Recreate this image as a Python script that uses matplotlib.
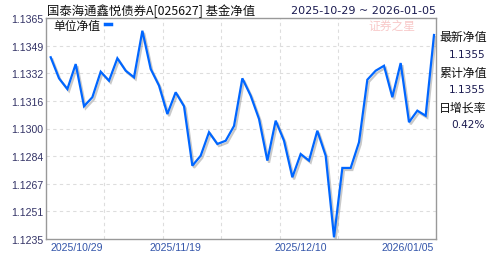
import matplotlib
matplotlib.use("Agg")
import matplotlib.pyplot as plt
import matplotlib.patheffects as pe

dates = ["2025/10/29", "2025/11/19", "2025/12/10", "2026/01/05"]
date_idx = [0, 15, 30, 46]
nav = [1.13419, 1.13295, 1.13232, 1.13379, 1.13131, 1.13184, 1.13334, 1.13281,
       1.13413, 1.13340, 1.13301, 1.13575, 1.13350, 1.13252, 1.13085, 1.13213,
       1.13131, 1.12781, 1.12840, 1.12978, 1.12909, 1.12928, 1.13015, 1.13295,
       1.13193, 1.13056, 1.12811, 1.13046, 1.12928, 1.12713, 1.12850, 1.12811,
       1.12987, 1.12840, 1.12360, 1.12768, 1.12768, 1.12919, 1.13287, 1.13340,
       1.13369, 1.13184, 1.13385, 1.13037, 1.13105, 1.13075, 1.13550]
yticks = ["1.1235", "1.1251", "1.1267", "1.1284", "1.1300", "1.1316", "1.1332", "1.1349", "1.1365"]
title = "国泰海通鑫悦债券A[025627] 基金净值"
date_range = "2025-10-29 ~ 2026-01-05"
side_labels = ["最新净值", "1.1355", "累计净值", "1.1355", "日增长率", "0.42%"]
legend_label = "单位净值"

plt.rcParams['font.family'] = ['Noto Sans CJK SC', 'DejaVu Sans']

fig = plt.figure(figsize=(4.88, 2.55), dpi=100)
ax = fig.add_axes([46/488, 15/255, 390/488, 221/255])

x = list(range(len(nav)))
ax.plot(x, nav, color='#0066ff', lw=1.6, solid_joinstyle='miter',
        path_effects=[pe.SimpleLineShadow(offset=(1.2, -1.5), shadow_color='#888888', alpha=0.45),
                      pe.Normal()], zorder=3)

ymin, ymax = 1.1235, 1.1365
ax.set_ylim(ymin, ymax)
ax.set_xlim(-0.564, 46.24)
step = (ymax - ymin) / 8
yt = [ymin + i*step for i in range(9)]
ax.set_yticks(yt)
ax.set_yticklabels(yticks, family='Liberation Sans', fontsize=7.6, color='#333366')
ax.tick_params(axis='y', length=0, pad=2)
for v in yt[1:-1]:
    ax.axhline(v, color='#dddddd', lw=0.8, ls=(0, (3, 3)), zorder=1)
for fx in [0.1487, 0.2995, 0.4487, 0.5995, 0.749]:
    ax.axvline(ax.get_xlim()[0] + fx*(ax.get_xlim()[1]-ax.get_xlim()[0]),
               color='#dddddd', lw=0.8, ls=(0, (3, 3)), zorder=1)

ax.set_xticks(date_idx)
ax.set_xticklabels(dates, family='Liberation Sans', fontsize=7.6, color='#3355aa')
ax.tick_params(axis='x', length=0, pad=2)
labs = ax.get_xticklabels()
labs[0].set_ha('left')
labs[-1].set_ha('right')
for s in ax.spines.values():
    s.set_color('#999999')
    s.set_linewidth(1.0)

fig.text(47/488, 1 - 11/255, title, fontsize=8.9, color='#111111', va='center', ha='left')
fig.text(436/488, 1 - 11/255, date_range, family='DejaVu Sans', fontsize=8.0, color='#1a1a50', va='center', ha='right')

# legend
ax.text((53 - 46)/390, 1 - (26-19)/221, legend_label, transform=ax.transAxes,
        fontsize=8.5, color='#111111', va='center', ha='left')
fig.add_artist(plt.Line2D([105/488, 111/488], [1 - 25/255, 1 - 25/255], color='#0066ff', lw=2.5))

# watermark
fig.text(392/488, 1 - 26/255, "证券之星", fontsize=8.5, color='#f8c8c8', va='center', ha='center', style='italic')

ys = [38, 55, 73, 90, 108, 125]
for lab, yy in zip(side_labels, ys):
    if lab[0].isdigit():
        fig.text(485/488, 1 - yy/255, lab, family='DejaVu Sans', fontsize=7.6, color='#1a1a50', va='center', ha='right')
    else:
        fig.text(439/488, 1 - yy/255, lab, fontsize=8.6, color='#111111', va='center', ha='left')

fig.savefig("out.png", dpi=100)
